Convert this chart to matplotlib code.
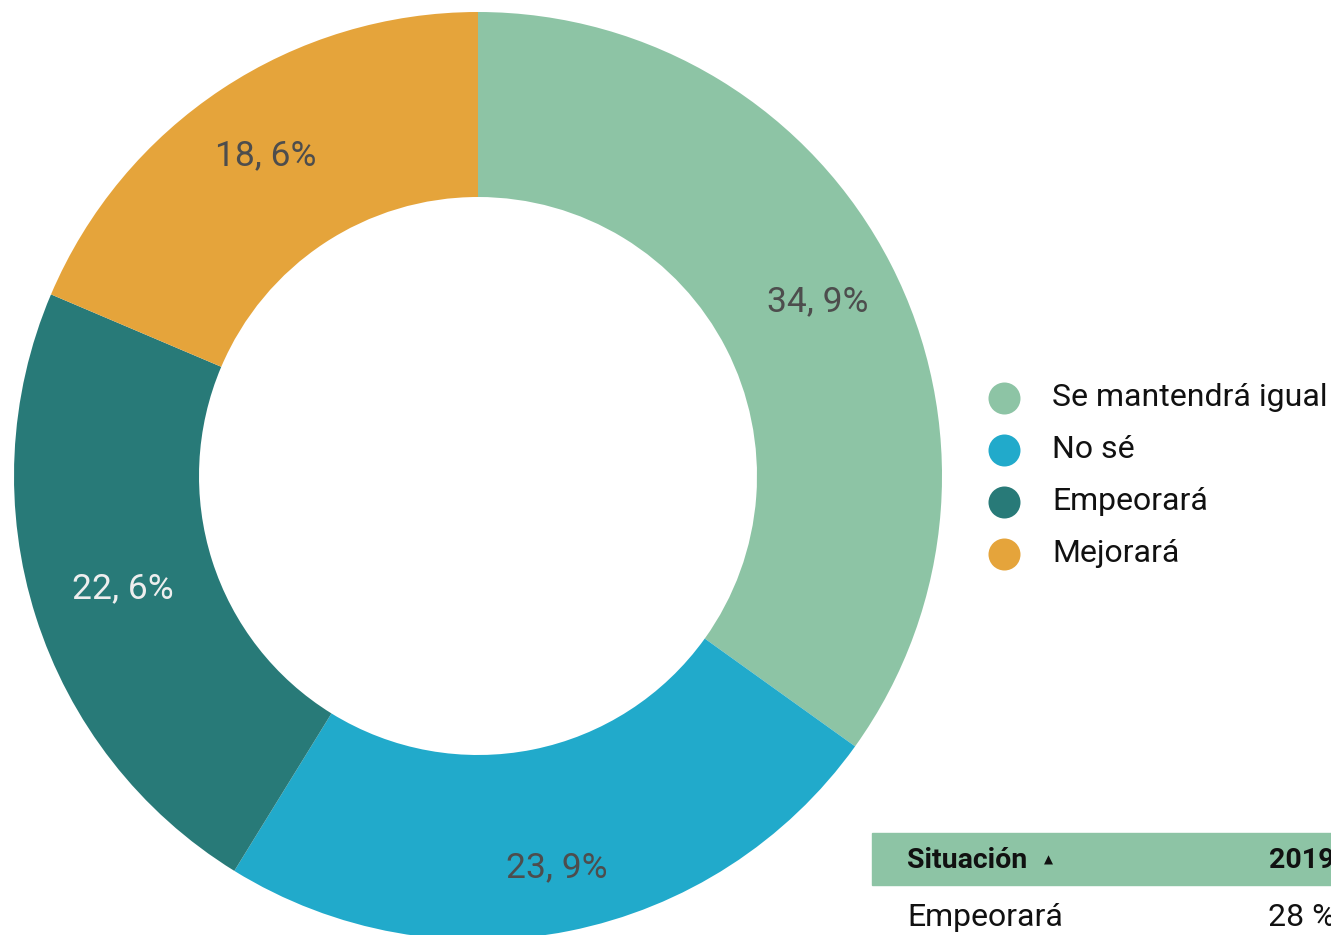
import numpy as np
import matplotlib.pyplot as plt
from matplotlib.patches import Rectangle

plt.rcParams['font.family'] = ['Roboto', 'DejaVu Sans']

categories = ["Se mantendrá igual", "No sé", "Empeorará", "Mejorará"]
values = [34.9, 23.9, 22.6, 18.6]
colors = ["#8DC4A5", "#21AACB", "#287A78", "#E5A43B"]
label_colors = ["#4d4d4d", "#4d4d4d", "#eeeeee", "#4d4d4d"]
label_radius = [0.823, 0.86, 0.804, 0.828]

table_header = ["Situación", "2019"]
table_row = ["Empeorará", "28 %"]

W, H = 1331, 935
fig = plt.figure(figsize=(W / 100, H / 100), dpi=100)
ax = fig.add_axes([0, 0, 1, 1])

cx, cy = 478, H - 476
r_out, r_in = 464, 279

wedges, _, autotexts = ax.pie(
    values, colors=colors, startangle=90, counterclock=False,
    center=(cx, cy), radius=r_out, frame=True,
    wedgeprops=dict(width=r_out - r_in, linewidth=0),
    autopct=lambda p: f"{p:.1f}%".replace(".", ", "),
    pctdistance=0.8,
)
ax.set_xlim(0, W)
ax.set_ylim(0, H)
ax.set_aspect("equal")
ax.axis("off")
for w, t, c, rf in zip(wedges, autotexts, label_colors, label_radius):
    ang = np.deg2rad((w.theta1 + w.theta2) / 2)
    t.set_position((cx + rf * r_out * np.cos(ang), cy + rf * r_out * np.sin(ang)))
    t.set_color(c)
    t.set_fontsize(25.5)

# legend
for i, (cat, c) in enumerate(zip(categories, colors)):
    y = H - (398 + 52 * i)
    ax.scatter([1004], [y], s=(32 * 0.72) ** 2, color=c, linewidths=0)
    ax.text(1052, y, cat, fontsize=23, va="center", ha="left", color="#111111")

# table fragment at bottom right
fig.patches.append(Rectangle((872 / W, 1 - 885 / H), (W - 872) / W, 52 / H,
                             transform=fig.transFigure, color="#8DC4A5"))
fig.text(907 / W, 1 - 860 / H, table_header[0], fontsize=20.5, fontweight="bold",
         va="center", ha="left", color="#111111")
fig.text(1048 / W, 1 - 860 / H, "▲", fontsize=8.5,
         va="center", ha="center", color="#111111")
fig.text(1269 / W, 1 - 860 / H, table_header[1], fontsize=20.5, fontweight="bold",
         va="center", ha="left", color="#111111")
fig.text(907 / W, 1 - 917 / H, table_row[0], fontsize=23,
         va="center", ha="left", color="#111111")
fig.text(1268 / W, 1 - 917 / H, table_row[1], fontsize=23,
         va="center", ha="left", color="#111111")

fig.savefig("out.png", dpi=100)
